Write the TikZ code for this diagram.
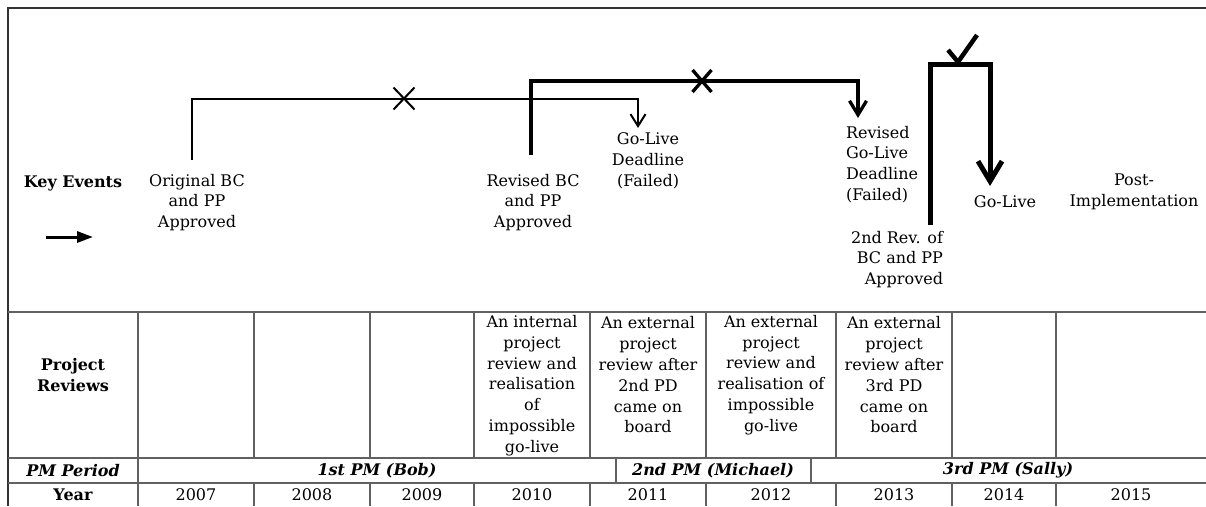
\documentclass[tikz,border=0pt]{standalone}
\usepackage{fontspec}
\setmainfont{DejaVu Serif}
\usetikzlibrary{arrows.meta}
\begin{document}
\begin{tikzpicture}[x=1pt,y=-1pt,
  every node/.style={inner sep=0pt,outer sep=0pt,font=\fontsize{16}{20.8}\selectfont},
  txt/.style={align=center},
  hdr/.style={align=center,font=\fontsize{16}{20.3}\selectfont\bfseries},
  pmtxt/.style={font=\fontsize{16}{18}\selectfont\bfseries\itshape},
  frame/.style={draw=black!80,line width=1.2pt},
  grid/.style={draw=black!62,line width=1.1pt},
  thinpath/.style={line width=2pt,-{Straight Barb[length=12pt,width=15pt,line width=2pt]}},
  midpath/.style={line width=3.3pt,-{Straight Barb[length=14pt,width=17pt,line width=3.3pt]}},
  boldpath/.style={line width=5pt,line join=miter,-{Straight Barb[length=20pt,width=24pt,line width=5pt]}},
  cross/.style={line width=2pt},
  crossbold/.style={line width=3.3pt},
]
\useasboundingbox (0,0) rectangle (1206,506);

% frame and table lines
\draw[frame] (1206,8) -- (8,8) -- (8,506);
\draw[grid] (8,312) -- (1206,312);
\draw[grid] (8,458) -- (1206,458);
\draw[grid] (8,483) -- (1206,483);
\foreach \x in {138,254,370,474,590,706,836,952,1056}{
  \draw[grid] (\x,312) -- (\x,458);
  \draw[grid] (\x,483) -- (\x,506);
}
\foreach \x in {138,616,811}{
  \draw[grid] (\x,458) -- (\x,483);
}

% key events
\node[hdr] (ke) at (73,183) {Key Events};
\coordinate (kea) at (46,237);
\coordinate (keb) at (93,237);
\draw[line width=3pt,-{Triangle[length=16pt,width=11pt]}] (kea) -- (keb);

\node[txt] (orig) at (197,202.5) {Original BC\\and PP\\Approved};
\node[txt] (rev) at (533,202.5) {Revised BC\\and PP\\Approved};
\node[txt] (gl1) at (648,161) {Go-Live\\Deadline\\(Failed)};
\node[align=left,anchor=west] (gl2) at (846,164.5) {Revised\\Go-Live\\Deadline\\(Failed)};
\node[align=right,anchor=east] (rev2) at (943,259.5) {2nd Rev. of\\BC and PP\\Approved};
\node (golive) at (1005,202) {Go-Live};
\node[txt] (post) at (1134,192) {Post-\\Implementation};

% connectors
\coordinate (s1) at (192,160);
\coordinate (m1) at (638,99);
\coordinate (t1) at (638,128);
\draw[thinpath] (s1) |- (m1) -- (t1);
\coordinate (s2) at (531,155);
\coordinate (m2) at (858,81);
\coordinate (t2) at (858,118);
\draw[midpath] (s2) |- (m2) -- (t2);
\coordinate (s3) at (930,225);
\coordinate (m3) at (990,64);
\coordinate (t3) at (990,186);
\draw[boldpath] (s3) |- (m3) -- (t3);

% crosses
\coordinate (x1) at (404,98.5);
\draw[cross] (x1) +(-10.5,-11) -- +(10.5,11) (x1) +(-10.5,11) -- +(10.5,-11);
\coordinate (x2) at (702,81);
\draw[crossbold] (x2) +(-9.5,-11) -- +(9.5,11) (x2) +(-9.5,11) -- +(9.5,-11);
% tick
\coordinate (ck1) at (948,50);
\coordinate (ck2) at (958,62);
\coordinate (ck3) at (977,35);
\draw[line width=4.5pt,line join=miter] (ck1) -- (ck2) -- (ck3);

% project reviews row
\node[hdr] (pr) at (73,375) {Project\\Reviews};
\node[txt] (r2010) at (532,385.5) {An internal\\project\\review and\\realisation\\of\\impossible\\go-live};
\node[txt] (r2011) at (648,375) {An external\\project\\review after\\2nd PD\\came on\\board};
\node[txt] (r2012) at (771,375) {An external\\project\\review and\\realisation of\\impossible\\go-live};
\node[txt] (r2013) at (894,375) {An external\\project\\review after\\3rd PD\\came on\\board};

% PM period row
\node[pmtxt] (pmp) at (73,470.5) {PM Period};
\node[pmtxt] (pm1) at (377,470.5) {1st PM (Bob)};
\node[pmtxt] (pm2) at (713,470.5) {2nd PM (Michael)};
\node[pmtxt] (pm3) at (1008,470.5) {3rd PM (Sally)};

% year row
\node[hdr] (yr) at (73,494.5) {Year};
\foreach \yy/\x in {2007/196,2008/312,2009/422,2010/532,2011/648,2012/771,2013/894,2014/1004,2015/1131}{
  \node (y\yy) at (\x,494.5) {\yy};
}
\end{tikzpicture}
\end{document}
